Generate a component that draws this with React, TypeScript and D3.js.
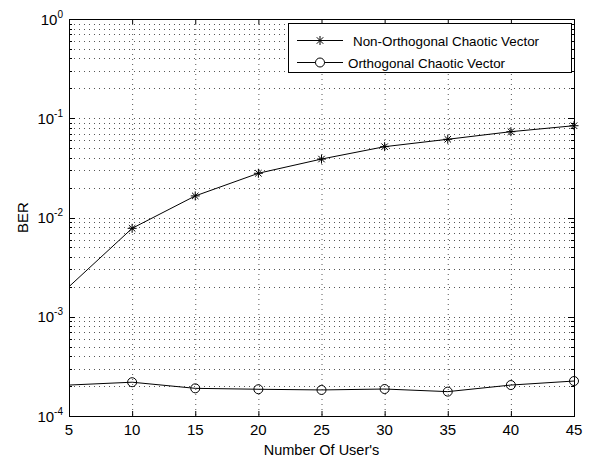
import React from "react";
import * as d3 from "d3";

const users = [5, 10, 15, 20, 25, 30, 35, 40, 45];
const berNonOrth = [0.00201, 0.00778, 0.0165, 0.0279, 0.0388, 0.0517, 0.0614, 0.0732, 0.0841];
const berOrth = [2.05e-4, 2.19e-4, 1.9e-4, 1.86e-4, 1.83e-4, 1.87e-4, 1.76e-4, 2.05e-4, 2.25e-4];
const xTicks = [5, 10, 15, 20, 25, 30, 35, 40, 45];
const yExponents = [0, -1, -2, -3, -4];
const seriesNames = ["Non-Orthogonal Chaotic Vector", "Orthogonal Chaotic Vector"];
const xLabel = "Number Of User's";
const yLabel = "BER";

const W = 598, H = 461;
const L = 69, R = 574, T = 19, B = 416;
const FONT = "'Liberation Sans', Arial, Helvetica, sans-serif";

function Star({ cx, cy, s = 4.5 }: { cx: number; cy: number; s?: number }) {
  const d = s * 0.72;
  return (
    <g stroke="#000" strokeWidth={1}>
      <line x1={cx - s} y1={cy} x2={cx + s} y2={cy} />
      <line x1={cx} y1={cy - s} x2={cx} y2={cy + s} />
      <line x1={cx - d} y1={cy - d} x2={cx + d} y2={cy + d} />
      <line x1={cx - d} y1={cy + d} x2={cx + d} y2={cy - d} />
    </g>
  );
}

export default function App() {
  const x = d3.scaleLinear().domain([5, 45]).range([L, R]);
  const y = d3.scaleLog().domain([1e-4, 1]).range([B, T]);

  const minors: number[] = [];
  for (let e = -4; e < 0; e++) for (let m = 2; m <= 9; m++) minors.push(m * Math.pow(10, e));
  const majors = yExponents.map((e) => Math.pow(10, e));

  const line = d3
    .line<number>()
    .x((_, i) => x(users[i]))
    .y((v) => y(v));

  const gridStyle = { stroke: "#555", strokeWidth: 1, strokeDasharray: "1,4" };

  return (
    <svg
      width={W}
      height={H}
      style={{ position: "absolute", left: 0, top: 0, background: "#fff", fontFamily: FONT }}
    >
      <rect x={0} y={0} width={W} height={H} fill="#fff" />
      {/* grid */}
      <g>
        {xTicks.slice(1, -1).map((t) => (
          <line key={"vx" + t} x1={x(t) + 0.5} x2={x(t) + 0.5} y1={T} y2={B} {...gridStyle} />
        ))}
        {[...majors.slice(1, -1), ...minors].map((v, i) => (
          <line key={"hy" + i} x1={L} x2={R} y1={Math.round(y(v)) + 0.5} y2={Math.round(y(v)) + 0.5} {...gridStyle} />
        ))}
      </g>
      {/* ticks */}
      <g stroke="#000" strokeWidth={1}>
        {xTicks.map((t) => (
          <g key={"xt" + t}>
            <line x1={x(t) + 0.5} x2={x(t) + 0.5} y1={B} y2={B - 5} />
            <line x1={x(t) + 0.5} x2={x(t) + 0.5} y1={T} y2={T + 5} />
          </g>
        ))}
        {majors.map((v, i) => (
          <g key={"yt" + i}>
            <line x1={L} x2={L + 6} y1={Math.round(y(v)) + 0.5} y2={Math.round(y(v)) + 0.5} />
            <line x1={R} x2={R - 6} y1={Math.round(y(v)) + 0.5} y2={Math.round(y(v)) + 0.5} />
          </g>
        ))}
        {minors.map((v, i) => (
          <g key={"ym" + i}>
            <line x1={L} x2={L + 3} y1={Math.round(y(v)) + 0.5} y2={Math.round(y(v)) + 0.5} />
            <line x1={R} x2={R - 3} y1={Math.round(y(v)) + 0.5} y2={Math.round(y(v)) + 0.5} />
          </g>
        ))}
      </g>
      {/* series */}
      <path d={line(berNonOrth) || ""} fill="none" stroke="#000" strokeWidth={1} />
      <path d={line(berOrth) || ""} fill="none" stroke="#000" strokeWidth={1} />
      {berNonOrth.map((v, i) =>
        users[i] > 5 ? <Star key={"s" + i} cx={x(users[i])} cy={y(v)} /> : null
      )}
      {berOrth.map((v, i) =>
        users[i] > 5 ? (
          <circle key={"c" + i} cx={x(users[i])} cy={y(v)} r={4.5} fill="none" stroke="#000" strokeWidth={1} />
        ) : null
      )}
      {/* axes box */}
      <rect x={L + 0.5} y={T + 0.5} width={R - L} height={B - T} fill="none" stroke="#000" strokeWidth={1} />
      {/* x tick labels */}
      {xTicks.map((t) => (
        <text key={"xl" + t} x={x(t)} y={435} textAnchor="middle" fontSize={15} fill="#000">
          {t}
        </text>
      ))}
      {/* y tick labels */}
      {yExponents.map((e) => (
        <text key={"yl" + e} x={63} y={y(Math.pow(10, e)) + 5.5} textAnchor="end" fontSize={15} fill="#000">
          10
          <tspan fontSize={10} dy={-7}>
            {e}
          </tspan>
        </text>
      ))}
      {/* axis labels */}
      <text x={(L + R) / 2} y={455} textAnchor="middle" fontSize={14.5} fill="#000">
        {xLabel}
      </text>
      <text transform={`translate(28,${(T + B) / 2}) rotate(-90)`} textAnchor="middle" fontSize={15} fill="#000">
        {yLabel}
      </text>
      {/* legend */}
      <g>
        <rect x={288.5} y={23.5} width={283} height={49} fill="#fff" stroke="#000" strokeWidth={1} />
        <line x1={297} x2={343} y1={40.5} y2={40.5} stroke="#000" />
        <Star cx={320} cy={40.5} />
        <text x={353} y={45.5} fontSize={13.4} fill="#000">
          {seriesNames[0]}
        </text>
        <line x1={297} x2={343} y1={62.5} y2={62.5} stroke="#000" />
        <circle cx={320} cy={62.5} r={4.5} fill="#fff" stroke="#000" />
        <text x={348} y={67.5} fontSize={13.4} fill="#000">
          {seriesNames[1]}
        </text>
      </g>
    </svg>
  );
}
